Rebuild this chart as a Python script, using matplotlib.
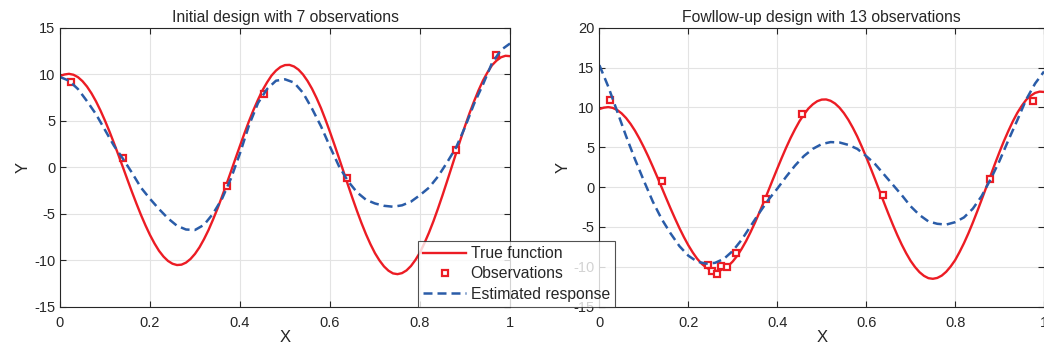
import matplotlib
matplotlib.use('Agg')
import matplotlib.pyplot as plt
from matplotlib.ticker import FuncFormatter

# x positions: true function read every 0.01, estimated responses every 0.02
x_true = [i / 100.0 for i in range(101)]
x_est = [i / 50.0 for i in range(51)]

# true function (same in both panels)
y_true = [9.80, 9.97, 10.04, 9.94, 9.68, 9.25, 8.67, 7.94, 7.08, 6.09,
          5.00, 3.83, 2.58, 1.29, -0.03, -1.36, -2.67, -3.93, -5.14, -6.26,
          -7.29, -8.20, -8.99, -9.61, -10.08, -10.38, -10.52, -10.48, -10.26, -9.87,
          -9.32, -8.61, -7.74, -6.76, -5.64, -4.45, -3.16, -1.82, -0.45, 0.94,
          2.31, 3.66, 4.95, 6.16, 7.26, 8.27, 9.11, 9.85, 10.39, 10.78,
          10.98, 11.00, 10.83, 10.49, 9.97, 9.28, 8.44, 7.45, 6.35, 5.10,
          3.78, 2.40, 0.98, -0.47, -1.92, -3.34, -4.71, -6.01, -7.21, -8.29,
          -9.25, -10.03, -10.67, -11.13, -11.42, -11.50, -11.39, -11.10, -10.62, -9.96,
          -9.17, -8.15, -7.03, -5.79, -4.44, -3.02, -1.54, -0.04, 1.47, 2.97,
          4.42, 5.80, 7.07, 8.26, 9.32, 10.20, 10.96, 11.46, 11.82, 11.98,
          11.94]

# estimated response, initial design
y_est_init = [9.7, 9.3, 8.4, 7.1, 5.7, 4.0, 2.3, 0.9, -0.6, -2.2,
              -3.4, -4.5, -5.5, -6.3, -6.7, -6.75, -6.2, -5.0, -3.4, -1.2,
              1.5, 4.5, 6.9, 8.4, 9.3, 9.45, 9.1, 8.0, 6.3, 4.4,
              2.2, 0.1, -1.5, -2.7, -3.5, -3.9, -4.15, -4.25, -4.1, -3.7,
              -3.0, -2.2, -1.0, 0.5, 2.1, 4.3, 6.8, 8.9, 11.2, 12.6,
              13.3]

# estimated response, follow-up design
y_est_follow = [15.3, 12.6, 9.5, 6.4, 3.5, 0.8, -1.8, -4.0, -5.8, -7.4,
                -8.6, -9.35, -9.6, -9.5, -9.0, -8.0, -6.6, -4.9, -3.2, -1.6,
                -0.2, 1.3, 2.7, 3.9, 4.8, 5.4, 5.65, 5.6, 5.3, 4.8,
                3.9, 2.9, 1.6, 0.3, -1.0, -2.4, -3.5, -4.3, -4.6, -4.7,
                -4.4, -3.8, -2.7, -1.1, 1.0, 3.3, 5.9, 8.4, 11.0, 13.0,
                14.5]

# observations
obs_x_init = [0.024, 0.141, 0.372, 0.454, 0.637, 0.879, 0.970]
obs_y_init = [9.2, 0.95, -2.06, 7.9, -1.2, 1.9, 12.06]

obs_x_follow = [0.024, 0.140, 0.245, 0.254, 0.265, 0.274, 0.286, 0.307,
                0.374, 0.455, 0.639, 0.879, 0.975]
obs_y_follow = [10.93, 0.77, -9.77, -10.48, -10.94, -9.86, -10.06, -8.3,
                -1.49, 9.13, -1.0, 1.0, 10.8]

titles = ['Initial design with 7 observations',
          'Fowllow-up design with 13 observations']

RED = '#ec1c24'
BLUE = '#2a5ca8'
DARK = '#262626'

plt.rcParams['font.family'] = ['Liberation Sans', 'DejaVu Sans']
plt.rcParams['font.size'] = 10
plt.rcParams['axes.unicode_minus'] = False

fig = plt.figure(figsize=(10.44, 3.51), dpi=100)
ax1 = fig.add_axes([60 / 1044., 44.3 / 351., 450 / 1044., 279 / 351.])
ax2 = fig.add_axes([599.4 / 1044., 44.3 / 351., 444.6 / 1044., 279 / 351.])


def draw_panel(ax, y_est, ox, oy, title, ylim, yticks):
    ax.grid(True, color='#e3e3e3', linewidth=0.8)
    ax.set_axisbelow(True)
    l1, = ax.plot(x_true, y_true, '-', color=RED, linewidth=1.7,
                  solid_joinstyle='round', label='True function')
    l2, = ax.plot(ox, oy, 's', color=RED, markersize=5, markerfacecolor='white',
                  markeredgewidth=1.6, linestyle='none', label='Observations')
    l3, = ax.plot(x_est, y_est, '--', color=BLUE, linewidth=1.8, dashes=(3.6, 2.0),
                  label='Estimated response')
    ax.set_xlim(0, 1)
    ax.set_ylim(*ylim)
    ax.set_xticks([0, 0.2, 0.4, 0.6, 0.8, 1])
    ax.set_yticks(yticks)
    ax.xaxis.set_major_formatter(FuncFormatter(lambda v, p: '%g' % v))
    ax.tick_params(direction='in', length=4, width=0.8, colors=DARK,
                   top=True, right=True, labelsize=10.5)
    ax.tick_params(axis='x', pad=7)
    for s in ax.spines.values():
        s.set_color(DARK)
        s.set_linewidth(0.8)
    ax.set_title(title, fontsize=11.3, color=DARK, pad=4)
    ax.set_xlabel('X', fontsize=12, color=DARK, labelpad=0)
    ax.set_ylabel('Y', fontsize=12, color=DARK, labelpad=2)
    return [l1, l2, l3]


handles = draw_panel(ax1, y_est_init, obs_x_init, obs_y_init, titles[0],
                     (-15, 15), [-15, -10, -5, 0, 5, 10, 15])
draw_panel(ax2, y_est_follow, obs_x_follow, obs_y_follow, titles[1],
           (-15, 20), [-15, -10, -5, 0, 5, 10, 15, 20])

leg = fig.legend(handles=handles, loc='lower left',
                 bbox_to_anchor=(418 / 1044., 44 / 351.),
                 fontsize=11.3, frameon=True, fancybox=False, handlelength=2.7,
                 borderpad=0.35, labelspacing=0.32, handletextpad=0.3, borderaxespad=0)
leg.get_frame().set_edgecolor(DARK)
leg.get_frame().set_linewidth(0.8)
for t in leg.get_texts():
    t.set_color(DARK)

plt.savefig('out.png', dpi=100)
